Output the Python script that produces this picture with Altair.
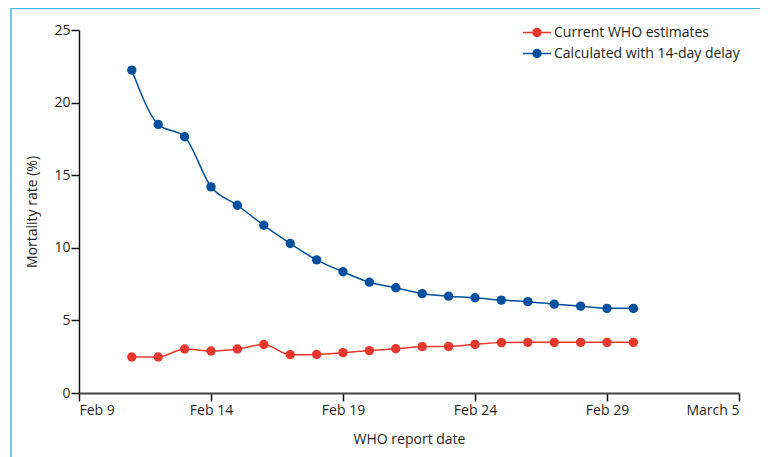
import altair as alt
import pandas as pd

# ---- data ----
dates = [
    "2020-02-11", "2020-02-12", "2020-02-13", "2020-02-14", "2020-02-15",
    "2020-02-16", "2020-02-17", "2020-02-18", "2020-02-19", "2020-02-20",
    "2020-02-21", "2020-02-22", "2020-02-23", "2020-02-24", "2020-02-25",
    "2020-02-26", "2020-02-27", "2020-02-28", "2020-02-29", "2020-03-01",
]
who_current = [2.48, 2.48, 3.03, 2.89, 3.03, 3.34, 2.64, 2.66, 2.78, 2.92,
               3.05, 3.19, 3.21, 3.35, 3.47, 3.49, 3.49, 3.49, 3.49, 3.49]
delay_14 = [22.24, 18.5, 17.65, 14.2, 12.93, 11.55, 10.30, 9.17, 8.35, 7.63,
            7.25, 6.84, 6.67, 6.56, 6.40, 6.29, 6.12, 5.98, 5.83, 5.83]
series_names = ["Current WHO estimates", "Calculated with 14-day delay"]
series_colors = ["#e8372c", "#00509e"]
y_ticks = [0, 5, 10, 15, 20, 25]
x_ticks = [(2020, 2, 9), (2020, 2, 14), (2020, 2, 19), (2020, 2, 24),
           (2020, 2, 29), (2020, 3, 5)]

rows = []
for d, v in zip(dates, who_current):
    rows.append({"date": d, "rate": v, "series": series_names[0]})
for d, v in zip(dates, delay_14):
    rows.append({"date": d, "rate": v, "series": series_names[1]})
df = pd.DataFrame(rows)

FONT = "Open Sans"
TXT = "#231f20"
FRAME = "#3ab4e2"

tick_dt = [alt.DateTime(year=y, month=m, date=d, utc=True) for (y, m, d) in x_ticks]

# legend symbol: line with a filled dot (concentric rings so that stroke alone fills it)
rings = ""
for r in [0.286, 0.2, 0.114, 0.036]:
    rings += f"M{-r},0A{r},{r},0,1,0,{r},0A{r},{r},0,1,0,{-r},0"
symbol_path = "M-1,0H1" + rings

lines = alt.Chart(df).mark_line(
    strokeWidth=1.5,
    interpolate="monotone",
    point=alt.OverlayMarkDef(filled=True, size=88, opacity=1),
).encode(
    x=alt.X(
        "date:T",
        title="WHO report date",
        scale=alt.Scale(type="utc", domain=[tick_dt[0], tick_dt[-1]]),
        axis=alt.Axis(
            values=tick_dt,
            labelExpr="(utcmonth(datum.value) == 1 ? 'Feb ' : 'March ') + utcdate(datum.value)",
            grid=False,
            domainColor="#444444",
            domainWidth=2,
            labelPadding=2,
            titlePadding=15,
        ),
    ),
    y=alt.Y(
        "rate:Q",
        title="Mortality rate (%)",
        scale=alt.Scale(domain=[0, 25], nice=False),
        axis=alt.Axis(values=y_ticks, grid=False, labelPadding=1, titlePadding=14,
                      domainColor="#111111", domainWidth=1.5),
    ),
    color=alt.Color(
        "series:N",
        scale=alt.Scale(domain=series_names, range=series_colors),
        legend=alt.Legend(
            title=None,
            orient="none",
            legendX=443,
            legendY=-8,
            padding=0,
            symbolType=symbol_path,
            symbolSize=784,
            symbolStrokeWidth=1.5,
            clipHeight=21,
            rowPadding=0,
            labelOffset=2,
            labelLimit=400,
            labelFont=FONT,
            labelFontSize=14,
            labelColor=TXT,
        ),
    ),
)

frame_df = pd.DataFrame({"k": [0]})
left_rule = alt.Chart(frame_df).mark_rule(color=FRAME, strokeWidth=1.4).encode(
    x=alt.value(-68), y=alt.value(-22), y2=alt.value(470)
)
top_rule = alt.Chart(frame_df).mark_rule(color=FRAME, strokeWidth=1.2).encode(
    x=alt.value(-68), x2=alt.value(720), y=alt.value(-21.5)
)

chart = alt.layer(left_rule, top_rule, lines).properties(
    width=660,
    height=363,
    autosize=alt.AutoSizeParams(type="none"),
    padding={"left": 71, "top": 22, "right": 21, "bottom": 64},
    background="white",
).configure_view(stroke=None).configure_axis(
    labelFont=FONT,
    labelFontSize=14,
    labelColor=TXT,
    titleFont=FONT,
    titleFontSize=14,
    titleFontWeight="normal",
    titleColor=TXT,
    tickColor="#111111",
    tickWidth=1.5,
    tickSize=8,
)

chart.save("out.html", embed_options={"renderer": "svg", "actions": False})
